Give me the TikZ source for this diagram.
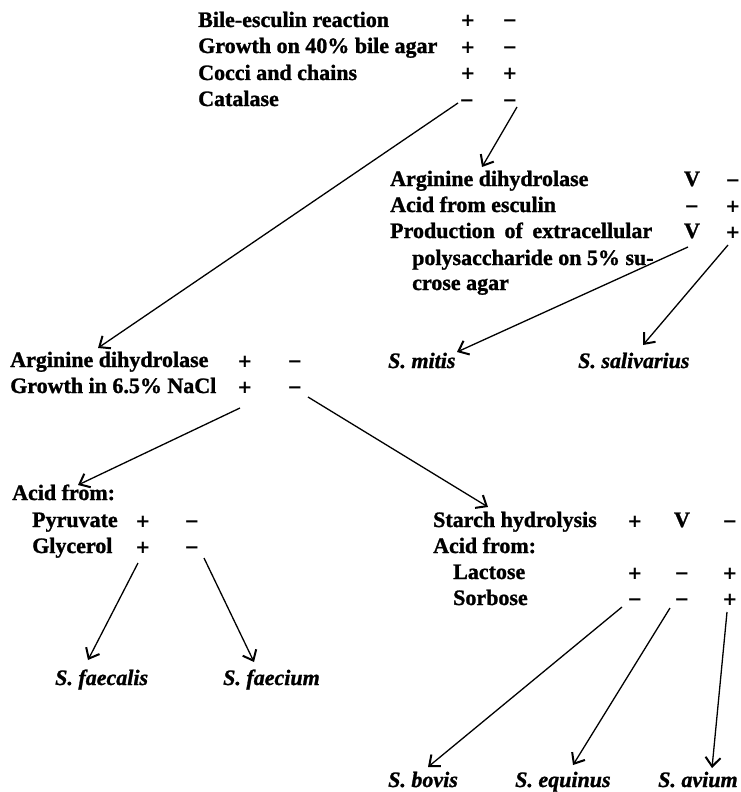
\documentclass[tikz,border=0pt]{standalone}
\usepackage{fontspec}
\setmainfont[BoldFeatures={FakeBold=1.2},BoldItalicFeatures={FakeBold=1.2}]{Liberation Serif}
\newfontfamily\signfont{DejaVu Sans}
\usetikzlibrary{arrows.meta}
\begin{document}
\begin{tikzpicture}[x=1pt,y=-1pt,
  lbl/.style={anchor=base west,inner sep=0pt,font=\fontsize{22}{26}\selectfont\bfseries},
  sgn/.style={anchor=base,inner sep=0pt,font=\signfont\fontsize{18}{22}\selectfont\bfseries},
  vsg/.style={anchor=base,inner sep=0pt,font=\fontsize{22}{26}\selectfont\bfseries},
  spc/.style={anchor=base west,inner sep=0pt,font=\fontsize{22}{26}\selectfont\bfseries\itshape},
  arr/.style={line width=1.3pt,-{Straight Barb[length=9pt,width=15pt,line width=2pt]}}]
\useasboundingbox (0,0) rectangle (741,792);

% top block
\node[lbl] (t1) at (198,27) {Bile-esculin reaction};
\node[lbl] (t2) at (198,53) {Growth on 40\% bile agar};
\node[lbl] (t3) at (198,80) {Cocci and chains};
\node[lbl] (t4) at (198,106) {Catalase};
\node[sgn] (t1a) at (468,27) {+};
\node[sgn] (t1b) at (510,27) {−};
\node[sgn] (t2a) at (468,53) {+};
\node[sgn] (t2b) at (510,53) {−};
\node[sgn] (t3a) at (468,80) {+};
\node[sgn] (t3b) at (510,80) {+};
\node[sgn] (t4a) at (467,106) {−};
\node[sgn] (t4b) at (510,106) {−};

% middle right block
\node[lbl] (r1) at (390,186) {Arginine dihydrolase};
\node[lbl] (r2) at (390,212) {Acid from esculin};
\node[lbl] (r3) at (390,238) {\makebox[262pt][s]{Production of extracellular}};
\node[lbl] (r4) at (412,265) {polysaccharide on 5\% su-};
\node[lbl] (r5) at (412,290) {crose agar};
\node[vsg] (r1a) at (692,186) {V};
\node[sgn] (r1b) at (733,186) {−};
\node[sgn] (r2a) at (692,212) {−};
\node[sgn] (r2b) at (733,212) {+};
\node[vsg] (r3a) at (692,238) {V};
\node[sgn] (r3b) at (733,238) {+};
\node[spc] (mitis) at (388,368) {S. mitis};
\node[spc] (saliv) at (578,368) {S. salivarius};

% middle left block
\node[lbl] (l1) at (10,367) {Arginine dihydrolase};
\node[lbl] (l2) at (10,393) {Growth in 6.5\% NaCl};
\node[sgn] (l1a) at (245,367) {+};
\node[sgn] (l1b) at (295,367) {−};
\node[sgn] (l2a) at (245,393) {+};
\node[sgn] (l2b) at (295,393) {−};

% lower left block
\node[lbl] (a0) at (12,500) {Acid from:};
\node[lbl] (a1) at (32,527) {Pyruvate};
\node[lbl] (a2) at (32,553) {Glycerol};
\node[sgn] (a1a) at (143,527) {+};
\node[sgn] (a1b) at (192,527) {−};
\node[sgn] (a2a) at (143,553) {+};
\node[sgn] (a2b) at (192,553) {−};
\node[spc] (faecalis) at (55,685) {S. faecalis};
\node[spc] (faecium) at (223,685) {S. faecium};

% lower right block
\node[lbl] (s0) at (433,527) {Starch hydrolysis};
\node[lbl] (s1) at (433,553) {Acid from:};
\node[lbl] (s2) at (453,579) {Lactose};
\node[lbl] (s3) at (453,605) {Sorbose};
\node[sgn] (s0a) at (635,527) {+};
\node[vsg] (s0b) at (682,527) {V};
\node[sgn] (s0c) at (730,527) {−};
\node[sgn] (s2a) at (635,579) {+};
\node[sgn] (s2b) at (682,579) {−};
\node[sgn] (s2c) at (730,579) {+};
\node[sgn] (s3a) at (635,605) {−};
\node[sgn] (s3b) at (682,605) {−};
\node[sgn] (s3c) at (730,605) {+};
\node[spc] (bovis) at (388,787) {S. bovis};
\node[spc] (equinus) at (515,787) {S. equinus};
\node[spc] (avium) at (658,787) {S. avium};

% connector end points
\coordinate (p1) at (458,103);  \coordinate (q1) at (98,348);
\coordinate (p2) at (517,107);  \coordinate (q2) at (482,167);
\coordinate (p3) at (688,247);  \coordinate (q3) at (457,352);
\coordinate (p4) at (728,245);  \coordinate (q4) at (643,345);
\coordinate (p5) at (240,408);  \coordinate (q5) at (78,485);
\coordinate (p6) at (308,397);  \coordinate (q6) at (488,507);
\coordinate (p7) at (138,563);  \coordinate (q7) at (88,660);
\coordinate (p8) at (204,558);  \coordinate (q8) at (254,662);
\coordinate (p9) at (622,607);  \coordinate (q9) at (428,767);
\coordinate (p10) at (670,608); \coordinate (q10) at (573,765);
\coordinate (p11) at (727,612); \coordinate (q11) at (712,768);

\foreach \i in {1,...,11} \draw[arr] (p\i) -- (q\i);
\end{tikzpicture}
\end{document}
